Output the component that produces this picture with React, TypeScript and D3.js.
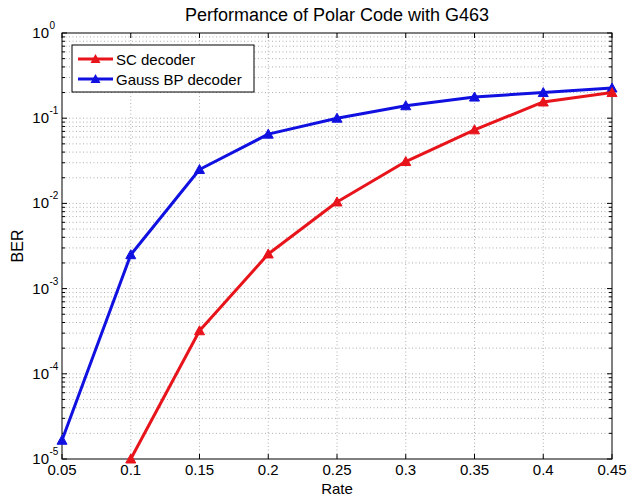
import React from "react";
import * as d3 from "d3";

const rates = [0.05, 0.1, 0.15, 0.2, 0.25, 0.3, 0.35, 0.4, 0.45];
const scRates = [0.1, 0.15, 0.2, 0.25, 0.3, 0.35, 0.4, 0.45];
const scBer = [1e-5, 3.2e-4, 2.55e-3, 0.0104, 0.031, 0.073, 0.155, 0.2];
const bpBer = [1.66e-5, 2.5e-3, 0.025, 0.065, 0.1, 0.14, 0.177, 0.2, 0.226];
const xTicks = [0.05, 0.1, 0.15, 0.2, 0.25, 0.3, 0.35, 0.4, 0.45];
const yExps = [-5, -4, -3, -2, -1, 0];
const seriesNames = ["SC decoder", "Gauss BP decoder"];
const colors = ["#e8141b", "#1010e0"];

const W = 630, H = 502;
const L = 62, R = 612, T = 33, B = 459;

export default function App() {
  const x = d3.scaleLinear().domain([0.05, 0.45]).range([L, R]);
  const y = d3.scaleLog().domain([1e-5, 1]).range([B, T]);
  const line = d3.line<[number, number]>().x(d => x(d[0])).y(d => y(d[1]));
  const sc: [number, number][] = scRates.map((r, i) => [r, scBer[i]]);
  const bp: [number, number][] = rates.map((r, i) => [r, bpBer[i]]);
  const minor: number[] = [];
  yExps.slice(0, -1).forEach(e => {
    for (let k = 2; k <= 9; k++) minor.push(k * Math.pow(10, e));
  });
  const tri = (cx: number, cy: number) => `M${cx},${cy - 5}L${cx + 5},${cy + 4}L${cx - 5},${cy + 4}Z`;
  const font = "Liberation Sans, Arial, sans-serif";
  const gridStyle = { stroke: "#9a9a9a", strokeWidth: 0.8, strokeDasharray: "1,2.5" };
  return (
    <svg width={W} height={H} style={{ position: "absolute", left: 0, top: 0, background: "#fff" }} fontFamily={font}>
      <rect x={0} y={0} width={W} height={H} fill="#fff" />
      {xTicks.slice(1, -1).map(t => (
        <line key={"vx" + t} x1={x(t)} x2={x(t)} y1={T} y2={B} {...gridStyle} />
      ))}
      {yExps.slice(1, -1).map(e => (
        <line key={"hy" + e} x1={L} x2={R} y1={y(Math.pow(10, e))} y2={y(Math.pow(10, e))} {...gridStyle} />
      ))}
      {minor.map((m, i) => (
        <line key={"hm" + i} x1={L} x2={R} y1={y(m)} y2={y(m)} {...gridStyle} />
      ))}
      {xTicks.map(t => (
        <g key={"tx" + t}>
          <line x1={x(t)} x2={x(t)} y1={B} y2={B - 5} stroke="#000" />
          <line x1={x(t)} x2={x(t)} y1={T} y2={T + 5} stroke="#000" />
          <text x={x(t)} y={B + 16} fontSize={15} textAnchor="middle" fill="#000">{String(t)}</text>
        </g>
      ))}
      {yExps.map(e => (
        <g key={"ty" + e}>
          <line x1={L} x2={L + 5} y1={y(Math.pow(10, e))} y2={y(Math.pow(10, e))} stroke="#000" />
          <line x1={R} x2={R - 5} y1={y(Math.pow(10, e))} y2={y(Math.pow(10, e))} stroke="#000" />
          <text x={49} y={y(Math.pow(10, e)) + 5} fontSize={15} textAnchor="end" fill="#000">10</text>
          <text x={49.5} y={y(Math.pow(10, e)) - 4} fontSize={10} textAnchor="start" fill="#000">{String(e)}</text>
        </g>
      ))}
      {minor.map((m, i) => (
        <g key={"mt" + i}>
          <line x1={L} x2={L + 3} y1={y(m)} y2={y(m)} stroke="#000" />
          <line x1={R} x2={R - 3} y1={y(m)} y2={y(m)} stroke="#000" />
        </g>
      ))}
      <rect x={L} y={T} width={R - L} height={B - T} fill="none" stroke="#000" strokeWidth={1} />
      <path d={line(bp) || ""} fill="none" stroke={colors[1]} strokeWidth={3} strokeLinejoin="round" />
      {bp.map((d, i) => <path key={"bm" + i} d={tri(x(d[0]), y(d[1]))} fill={colors[1]} stroke={colors[1]} />)}
      <path d={line(sc) || ""} fill="none" stroke={colors[0]} strokeWidth={3} strokeLinejoin="round" />
      {sc.map((d, i) => <path key={"sm" + i} d={tri(x(d[0]), y(d[1]))} fill={colors[0]} stroke={colors[0]} />)}
      <rect x={72} y={45} width={182} height={47} fill="#fff" stroke="#000" strokeWidth={1} />
      {seriesNames.map((n, i) => (
        <g key={n}>
          <line x1={78} x2={113} y1={59 + i * 20} y2={59 + i * 20} stroke={colors[i]} strokeWidth={3} />
          <path d={tri(95.5, 59 + i * 20)} fill={colors[i]} />
          <text x={116} y={64.5 + i * 20} fontSize={15} fill="#000">{n}</text>
        </g>
      ))}
      <text x={(L + R) / 2} y={21} fontSize={18} textAnchor="middle" fill="#000">Performance of Polar Code with G463</text>
      <text x={(L + R) / 2} y={494} fontSize={15} textAnchor="middle" fill="#000">Rate</text>
      <text transform={`translate(23,${(T + B) / 2}) rotate(-90)`} fontSize={16} textAnchor="middle" fill="#000">BER</text>
    </svg>
  );
}
